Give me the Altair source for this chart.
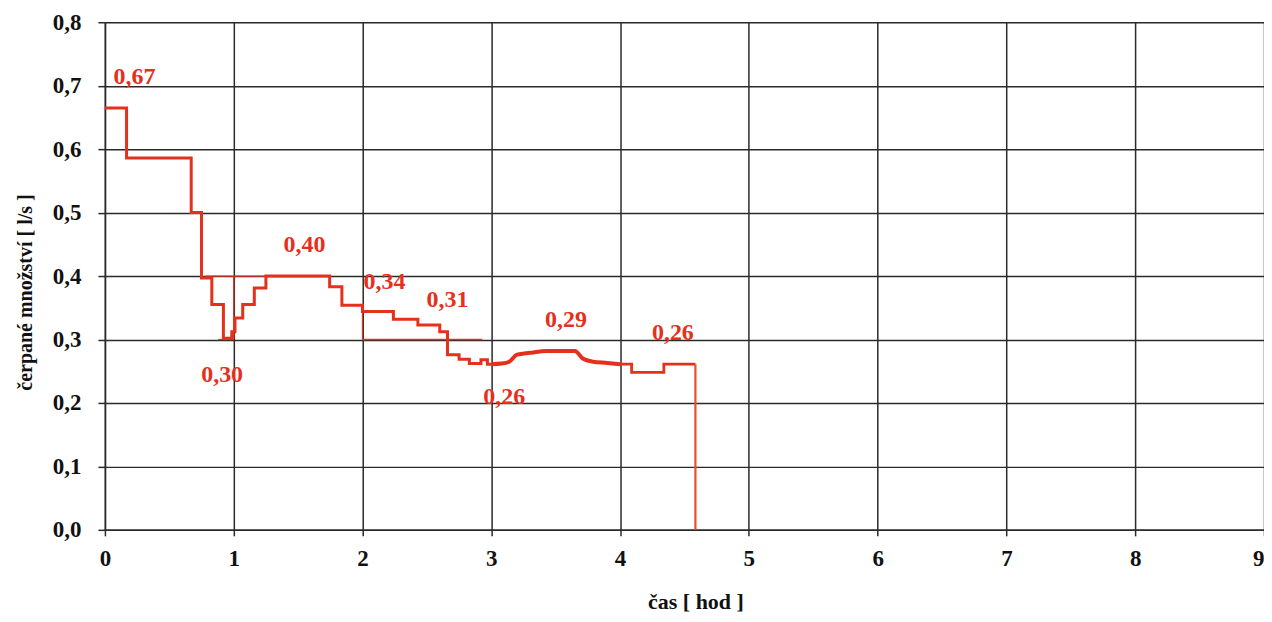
import altair as alt
import pandas as pd

# step part 1 (hours, l/s)
t_step1 = [0.0, 0.168, 0.67, 0.75, 0.83, 0.92, 0.985, 1.01, 1.07, 1.16, 1.25, 1.745, 1.84, 2.0, 2.24, 2.43, 2.6, 2.66, 2.75, 2.83, 2.92, 2.97, 3.0]
q_step1 = [0.665, 0.586, 0.50, 0.397, 0.355, 0.302, 0.312, 0.334, 0.355, 0.381, 0.400, 0.383, 0.354, 0.344, 0.332, 0.323, 0.312, 0.276, 0.269, 0.262, 0.268, 0.261, 0.261]
# smooth part
t_curve = [3.0, 3.08, 3.14, 3.2, 3.3, 3.43, 3.65, 3.71, 3.79, 3.9, 4.0]
q_curve = [0.261, 0.262, 0.265, 0.276, 0.279, 0.282, 0.282, 0.270, 0.265, 0.263, 0.261]
# step part 2
t_step2 = [4.0, 4.09, 4.34, 4.585]
q_step2 = [0.261, 0.248, 0.261, 0.261]
# final drop
t_drop = [4.585, 4.585]
q_drop = [0.261, 0.0]

# thin guide lines
g_x1 = [0.78, 1.0, 2.0, 2.0, 0.88]
g_x2 = [1.3, 1.0, 2.0, 2.93, 1.0]
g_y1 = [0.4, 0.3, 0.3, 0.3, 0.3]
g_y2 = [0.4, 0.4, 0.344, 0.3, 0.3]

# labels
lab_text = ["0,67", "0,30", "0,40", "0,34", "0,31", "0,29", "0,26", "0,26"]
lab_t = [0.23, 0.91, 1.55, 2.17, 2.66, 3.58, 3.10, 4.41]
lab_q = [0.713, 0.244, 0.449, 0.39, 0.362, 0.331, 0.21, 0.31]

RED = "#e5301c"
FONT = "Liberation Serif"
GRID = "#2a2a2a"

xs = alt.Scale(domain=[0, 9], nice=False, zero=False)
ys = alt.Scale(domain=[0, 0.8], nice=False)

x_axis = alt.Axis(values=list(range(10)), format="d", title="čas [ hod ]",
                  labelFont=FONT, labelFontSize=23, labelFontWeight="bold", labelColor="#111",
                  titleFont=FONT, titleFontSize=22, titleFontWeight="bold", titleColor="#111",
                  labelPadding=12, titlePadding=21, titleX=591,
                  labelFlush=False, labelAlign=alt.expr("datum.value == 9 ? 'right' : 'center'"),
                  grid=True, gridColor=GRID, gridWidth=1.5,
                  domainColor=GRID, domainWidth=1.5, tickColor=GRID, tickSize=6, tickWidth=1.5)
y_axis = alt.Axis(values=[i / 10 for i in range(9)], labelExpr="replace(format(datum.value, '.1f'), '.', ',')",
                  title="čerpané množství [ l/s ]",
                  labelFont=FONT, labelFontSize=23, labelFontWeight="bold", labelColor="#111",
                  titleFont=FONT, titleFontSize=20, titleFontWeight="bold", titleColor="#111",
                  labelPadding=17, titlePadding=17, titleY=270, labelFlush=False,
                  grid=True, gridColor=GRID, gridWidth=1.5,
                  domainColor=GRID, domainWidth=1.5, tickColor=GRID, tickSize=7, tickWidth=1.5)

d1 = pd.DataFrame({"t": t_step1, "q": q_step1})
d2 = pd.DataFrame({"t": t_curve, "q": q_curve})
d3 = pd.DataFrame({"t": t_step2, "q": q_step2})
d4 = pd.DataFrame({"t": t_drop, "q": q_drop})
dg = pd.DataFrame({"x1": g_x1, "x2": g_x2, "y1": g_y1, "y2": g_y2})
dl = pd.DataFrame({"text": lab_text, "t": lab_t, "q": lab_q})

base_axes = alt.Chart(d1).mark_line(interpolate="step-after", color=RED, strokeWidth=3).encode(
    x=alt.X("t:Q", scale=xs, axis=x_axis),
    y=alt.Y("q:Q", scale=ys, axis=y_axis),
)
curve = alt.Chart(d2).mark_line(interpolate="monotone", color=RED, strokeWidth=4).encode(
    x=alt.X("t:Q", scale=xs), y=alt.Y("q:Q", scale=ys))
step2 = alt.Chart(d3).mark_line(interpolate="step-after", color=RED, strokeWidth=2.8).encode(
    x=alt.X("t:Q", scale=xs), y=alt.Y("q:Q", scale=ys))
drop = alt.Chart(d4).mark_line(color="#e8502a", strokeWidth=2.2).encode(
    x=alt.X("t:Q", scale=xs), y=alt.Y("q:Q", scale=ys))
guides = alt.Chart(dg).mark_rule(color=RED, strokeWidth=1.3).encode(
    x=alt.X("x1:Q", scale=xs), x2="x2:Q", y=alt.Y("y1:Q", scale=ys), y2="y2:Q")
labels = alt.Chart(dl).mark_text(font=FONT, fontSize=24, fontWeight="bold", color=RED).encode(
    x=alt.X("t:Q", scale=xs), y=alt.Y("q:Q", scale=ys), text="text:N")

chart = alt.layer(base_axes, guides, curve, step2, drop, labels).properties(
    width=1160, height=508,
    autosize=alt.AutoSizeParams(type="none"),
    padding={"left": 97, "top": 14, "right": 0, "bottom": 84},
).configure_view(stroke=None).configure(background="white")

chart.save("out.html", embed_options={"renderer": "svg", "actions": False})
